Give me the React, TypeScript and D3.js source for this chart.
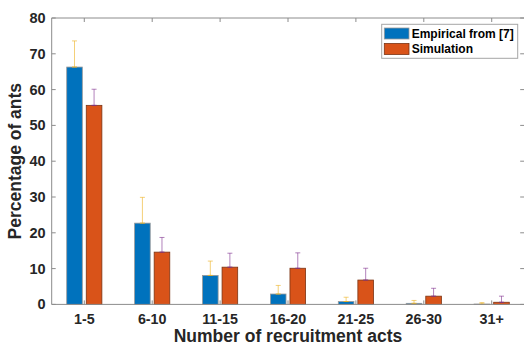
import * as d3 from "d3";
import React from "react";

// values
const categories = ["1-5", "6-10", "11-15", "16-20", "21-25", "26-30", "31+"];
const empirical = [66.3, 22.7, 8.1, 2.9, 0.8, 0.3, 0.1];
const empiricalErr = [7.3, 7.2, 4.0, 2.4, 1.2, 0.8, 0.4];
const simulation = [55.6, 14.6, 10.4, 10.1, 6.8, 2.3, 0.6];
const simulationErr = [4.5, 4.1, 3.9, 4.3, 3.3, 2.2, 1.7];
const yTicks = [0, 10, 20, 30, 40, 50, 60, 70, 80];
const seriesNames = ["Empirical from [7]", "Simulation"];

const w = 524;
const h = 347;
const left = 51.7;
const right = 524.3;
const top = 18;
const bottom = 304.4;

const font = "'Liberation Sans', Arial, Helvetica, sans-serif";
const textColor = "#262626";
const axisColor = "#8c8c8c";

const series = [
  { name: seriesNames[0], values: empirical, err: empiricalErr, fill: "#0072BD", edge: "#9a9a9a", errColor: "#EDB120", offset: -0.144 },
  { name: seriesNames[1], values: simulation, err: simulationErr, fill: "#D95319", edge: "#7a3414", errColor: "#7E2F8E", offset: 0.144 },
];

export default function App() {
  const xScale = d3.scaleLinear().domain([0.52, 7.48]).range([left, right]);
  const yScale = d3.scaleLinear().domain([0, 80]).range([bottom, top]);
  const unit = xScale(2) - xScale(1);
  const barW = 0.23 * unit;
  const cap = 2.5;
  // right box edge sits just past the window, as in the reference
  const boxRight = 525.2;

  return (
    <svg width={w} height={h} style={{ position: "absolute", left: 0, top: 0, background: "#fff" }} fontFamily={font}>
      <rect x={0} y={0} width={w} height={h} fill="#fff" />
      {/* bars */}
      {series.map((s) =>
        s.values.map((v, i) => {
          const cx = xScale(i + 1 + s.offset);
          return (
            <rect
              key={s.name + i}
              x={cx - barW / 2}
              y={yScale(v)}
              width={barW}
              height={yScale(0) - yScale(v)}
              fill={s.fill}
              stroke={s.edge}
              strokeWidth={0.8}
            />
          );
        })
      )}
      {/* error bars (upper only) */}
      {series.map((s) =>
        s.values.map((v, i) => {
          const cx = xScale(i + 1 + s.offset);
          const y0 = yScale(v);
          const y1 = yScale(v + s.err[i]);
          return (
            <g key={"e" + s.name + i} stroke={s.errColor} strokeOpacity={0.6} strokeWidth={1}>
              <line x1={cx} x2={cx} y1={y0} y2={y1} />
              <line x1={cx - cap} x2={cx + cap} y1={y1} y2={y1} />
              <line x1={cx - cap} x2={cx + cap} y1={y0} y2={y0} strokeOpacity={0.9} />
            </g>
          );
        })
      )}
      {/* axes box */}
      <g stroke={axisColor} strokeWidth={1} fill="none">
        <line x1={left} x2={left} y1={top} y2={bottom} />
        <line x1={boxRight} x2={boxRight} y1={top} y2={bottom} />
        <line x1={left} x2={boxRight} y1={top} y2={top} />
        <line x1={left} x2={boxRight} y1={bottom} y2={bottom} />
        {yTicks.map((t) => (
          <g key={"yt" + t}>
            <line x1={left} x2={left + 4} y1={yScale(t)} y2={yScale(t)} />
            <line x1={boxRight - 5} x2={boxRight} y1={yScale(t)} y2={yScale(t)} />
          </g>
        ))}
        {categories.map((c, i) => (
          <g key={"xt" + c}>
            <line x1={xScale(i + 1)} x2={xScale(i + 1)} y1={bottom} y2={bottom - 4} />
            <line x1={xScale(i + 1)} x2={xScale(i + 1)} y1={top} y2={top + 4} />
          </g>
        ))}
      </g>
      {/* tick labels */}
      {yTicks.map((t) => (
        <text key={"yl" + t} x={left - 6} y={yScale(t) + 5} textAnchor="end" fontSize={14.5} fontWeight="bold" fill={textColor}>
          {t}
        </text>
      ))}
      {categories.map((c, i) => (
        <text key={"xl" + c} x={xScale(i + 1)} y={324} textAnchor="middle" fontSize={14.3} fontWeight="bold" fill={textColor}>
          {c}
        </text>
      ))}
      {/* axis labels */}
      <text x={(left + right) / 2} y={341.7} textAnchor="middle" fontSize={17.5} fontWeight="bold" fill={textColor}>
        Number of recruitment acts
      </text>
      <text
        transform={`translate(20.5,${(top + bottom) / 2}) rotate(-90)`}
        textAnchor="middle"
        fontSize={17.5}
        fontWeight="bold"
        fill={textColor}
      >
        Percentage of ants
      </text>
      {/* legend */}
      <g>
        <rect x={381.7} y={24.3} width={136} height={34} fill="#fff" stroke="#a6a6a6" strokeWidth={1} />
        {series.map((s, i) => (
          <g key={"lg" + s.name}>
            <rect x={384.3} y={28 + i * 15.5} width={24.7} height={11} fill={s.fill} stroke={s.edge} strokeWidth={0.8} />
            <text x={411.7} y={38 + i * 15.3} fontSize={12} fontWeight="bold" fill="#000">
              {s.name}
            </text>
          </g>
        ))}
      </g>
    </svg>
  );
}
